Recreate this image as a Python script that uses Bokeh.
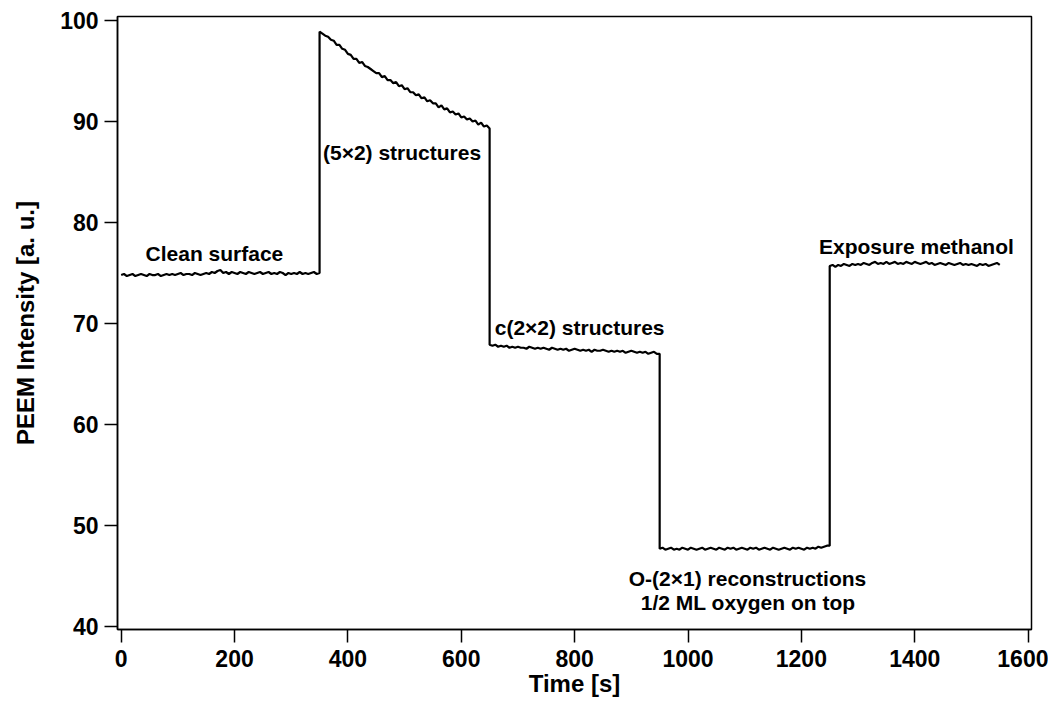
from bokeh.plotting import figure
from bokeh.models import Range1d, Label, FixedTicker
from bokeh.embed import file_html
from bokeh.resources import INLINE

# ---- data (5 s sampling) ----
t_clean = list(range(0, 351, 5))
i_clean = [74.8, 74.9, 74.7, 74.8, 74.9, 74.7, 74.8, 74.9, 74.8, 74.7,
           74.9, 74.8, 74.8, 74.9, 74.7, 74.8, 74.9, 74.8, 74.9, 74.8,
           74.9, 75.0, 74.8, 74.9, 74.9, 74.8, 75.0, 74.9, 74.8, 74.9,
           75.0, 74.9, 75.1, 75.0, 75.2, 75.3, 75.0, 75.1, 74.9, 75.1,
           75.0, 74.9, 75.1, 75.0, 74.9, 75.1, 75.0, 74.9, 75.0, 75.1,
           74.9, 75.0, 75.1, 74.9, 75.0, 74.9, 75.1, 75.0, 74.8, 75.0,
           74.9, 75.0, 74.9, 75.1, 74.9, 75.0, 74.9, 75.0, 75.1, 74.9,
           75.0]

t_5x2 = list(range(350, 651, 5))
i_5x2 = [98.9, 98.7, 98.5, 98.4, 98.1, 98.0, 97.6, 97.6, 97.2, 97.1,
         96.7, 96.6, 96.2, 96.2, 95.8, 95.9, 95.5, 95.4, 95.2, 95.0,
         94.8, 94.8, 94.4, 94.5, 94.1, 94.1, 93.8, 93.9, 93.5, 93.6,
         93.2, 93.3, 92.9, 92.9, 92.6, 92.7, 92.3, 92.4, 92.0, 92.1,
         91.8, 91.8, 91.4, 91.6, 91.2, 91.3, 90.9, 91.0, 90.7, 90.8,
         90.4, 90.5, 90.2, 90.3, 90.0, 90.1, 89.7, 89.9, 89.5, 89.6,
         89.3]

t_c2x2 = list(range(650, 951, 5))
i_c2x2 = [67.9, 67.8, 67.9, 67.7, 67.8, 67.7, 67.8, 67.6, 67.7, 67.6,
          67.7, 67.6, 67.6, 67.5, 67.7, 67.6, 67.5, 67.6, 67.5, 67.6,
          67.5, 67.4, 67.6, 67.5, 67.4, 67.5, 67.4, 67.5, 67.3, 67.4,
          67.5, 67.4, 67.3, 67.4, 67.3, 67.4, 67.2, 67.4, 67.3, 67.3,
          67.4, 67.3, 67.2, 67.3, 67.2, 67.3, 67.2, 67.3, 67.1, 67.2,
          67.3, 67.2, 67.1, 67.2, 67.1, 67.2, 67.0, 67.1, 67.2, 67.0,
          67.0]

t_o2x1 = list(range(950, 1251, 5))
i_o2x1 = [47.7, 47.8, 47.6, 47.7, 47.8, 47.6, 47.7, 47.6, 47.8, 47.7,
          47.6, 47.8, 47.7, 47.6, 47.7, 47.8, 47.6, 47.7, 47.8, 47.7,
          47.6, 47.8, 47.7, 47.6, 47.8, 47.7, 47.8, 47.6, 47.7, 47.8,
          47.7, 47.6, 47.8, 47.7, 47.8, 47.6, 47.7, 47.8, 47.7, 47.6,
          47.8, 47.7, 47.6, 47.7, 47.8, 47.7, 47.6, 47.8, 47.7, 47.8,
          47.7, 47.6, 47.8, 47.7, 47.8, 47.7, 47.9, 47.8, 47.9, 48.0,
          48.0]

t_meoh = list(range(1250, 1551, 5))
i_meoh = [75.7, 75.8, 75.6, 75.8, 75.7, 75.9, 75.8, 75.7, 75.9, 75.8,
          75.9, 75.8, 76.0, 75.9, 75.8, 76.0, 76.1, 75.9, 76.0, 75.9,
          76.1, 75.9, 76.0, 76.1, 75.9, 76.0, 75.9, 76.1, 76.0, 75.9,
          76.1, 76.0, 75.9, 76.0, 76.1, 75.9, 76.0, 75.8, 75.9, 76.0,
          75.9, 75.8, 76.0, 75.9, 75.8, 75.9, 76.0, 75.8, 75.9, 75.8,
          75.9, 75.8, 75.7, 75.9, 75.8, 75.9, 75.7, 75.8, 75.9, 76.0,
          75.8]

x_ticks = [0, 200, 400, 600, 800, 1000, 1200, 1400, 1600]
y_ticks = [40, 50, 60, 70, 80, 90, 100]

annotations = [
    ("Clean surface", 43, 76.9, "left"),
    ("(5\u00d72) structures", 356, 86.9, "left"),
    ("c(2\u00d72) structures", 659, 69.6, "left"),
    ("Exposure methanol", 1231, 77.6, "left"),
    ("O-(2\u00d71) reconstructions", 1105, 44.75, "center"),
    ("1/2 ML oxygen on top", 1106, 42.4, "center"),
]

time = t_clean + t_5x2 + t_c2x2 + t_o2x1 + t_meoh
inten = i_clean + i_5x2 + i_c2x2 + i_o2x1 + i_meoh

FONT = "Liberation Sans"

p = figure(width=1048, height=701, output_backend="svg", toolbar_location=None,
           x_range=Range1d(-6.5, 1606), y_range=Range1d(39.7, 100.4),
           min_border_left=117, min_border_right=17, min_border_top=16,
           min_border_bottom=72, background_fill_color="white",
           border_fill_color="white")

p.line(time, inten, line_color="black", line_width=2.2)

p.grid.visible = False
p.outline_line_color = "black"
p.outline_line_width = 1.5

for ax in (p.xaxis[0], p.yaxis[0]):
    ax.axis_line_color = "black"
    ax.axis_line_width = 1.5
    ax.major_tick_line_color = "black"
    ax.major_tick_line_width = 1.5
    ax.major_tick_out = 13
    ax.major_tick_in = 0
    ax.minor_tick_line_color = None
    ax.major_label_text_font = FONT
    ax.major_label_text_font_style = "bold"
    ax.major_label_text_font_size = "23px"
    ax.major_label_text_color = "black"
    ax.axis_label_text_font = FONT
    ax.axis_label_text_font_style = "bold"
    ax.axis_label_text_font_size = "24px"
    ax.axis_label_text_color = "black"

p.xaxis.ticker = FixedTicker(ticks=x_ticks)
p.yaxis.ticker = FixedTicker(ticks=y_ticks)
p.xaxis.axis_label = "Time [s]"
p.yaxis.axis_label = "PEEM Intensity [a. u.]"
p.xaxis.major_label_standoff = 7
p.xaxis.axis_label_standoff = 0
p.yaxis.major_label_standoff = 6
p.yaxis.axis_label_standoff = 18

for txt, x, y, align in annotations:
    p.add_layout(Label(x=x, y=y, text=txt, text_font=FONT, text_font_style="bold",
                       text_font_size="21px", text_color="black",
                       text_align=align, text_baseline="alphabetic"))

open("out.html", "w").write(file_html(p, INLINE))
